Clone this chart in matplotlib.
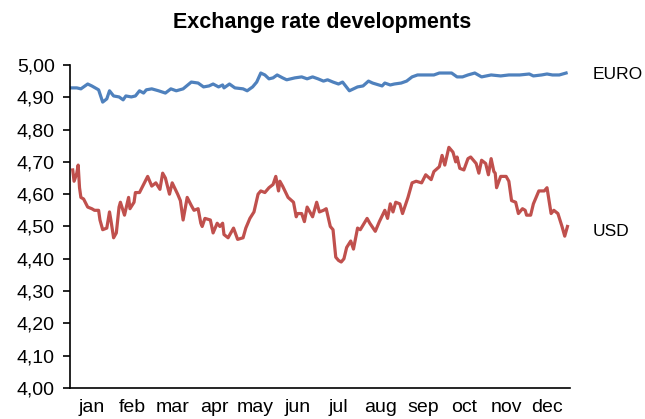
import matplotlib.pyplot as plt
from matplotlib.ticker import FuncFormatter

plt.rcParams['font.family'] = ['Liberation Sans', 'DejaVu Sans']

months = ["jan", "feb", "mar", "apr", "may", "jun",
          "jul", "aug", "sep", "oct", "nov", "dec"]
month_mid = [15, 45, 74, 105, 135, 166, 196, 227, 258, 288, 319, 349]

# EUR rate, day of year and value
euro_day = [0, 4, 7, 12, 15, 20, 23, 26, 28, 31, 35, 38, 40, 44, 47, 50, 53, 55,
            59, 64, 69, 73, 77, 82, 88, 93, 97, 101, 104, 108, 111, 112, 116, 120,
            126, 129, 133, 136, 139, 142, 145, 148, 151, 155, 158, 164, 169, 173,
            177, 181, 185, 188, 192, 196, 199, 204, 210, 214, 218, 221, 228, 230,
            234, 237, 242, 246, 250, 254, 261, 266, 270, 279, 283, 287, 291, 296,
            301, 308, 315, 321, 329, 336, 339, 345, 349, 353, 358, 363]
euro_val = [4.929, 4.929, 4.926, 4.941, 4.935, 4.923, 4.885, 4.895, 4.920, 4.904,
            4.901, 4.892, 4.904, 4.901, 4.904, 4.920, 4.913, 4.923, 4.926, 4.920,
            4.913, 4.926, 4.920, 4.926, 4.947, 4.944, 4.932, 4.935, 4.941, 4.932,
            4.938, 4.929, 4.941, 4.929, 4.926, 4.920, 4.932, 4.947, 4.975, 4.969,
            4.957, 4.960, 4.969, 4.960, 4.954, 4.960, 4.963, 4.957, 4.963, 4.957,
            4.950, 4.954, 4.947, 4.941, 4.947, 4.920, 4.932, 4.935, 4.950, 4.944,
            4.935, 4.944, 4.938, 4.941, 4.944, 4.950, 4.963, 4.969, 4.969, 4.969,
            4.975, 4.975, 4.963, 4.963, 4.969, 4.975, 4.963, 4.969, 4.966, 4.969,
            4.969, 4.972, 4.966, 4.969, 4.972, 4.969, 4.969, 4.975]

# USD rate, day of year and value
usd_day = [1, 2, 4, 5, 6, 7, 9, 12, 15, 17, 20, 21, 23, 26, 28, 29, 31, 33, 35,
           36, 39, 42, 43, 46, 47, 50, 53, 56, 59, 62, 65, 67, 69, 72, 74, 78, 80,
           82, 85, 88, 90, 93, 95, 96, 98, 102, 104, 107, 109, 111, 112, 115, 119,
           122, 126, 128, 131, 134, 137, 139, 142, 145, 148, 150, 152, 153, 155,
           159, 163, 165, 166, 169, 171, 173, 177, 180, 182, 185, 187, 190, 192,
           194, 196, 198, 200, 202, 205, 207, 210, 212, 217, 219, 223, 226, 230,
           232, 234, 236, 238, 241, 243, 247, 250, 253, 257, 260, 264, 266, 270,
           272, 274, 277, 280, 282, 283, 285, 288, 291, 293, 297, 299, 301, 304,
           306, 308, 310, 311, 312, 315, 319, 321, 323, 326, 328, 331, 333, 334,
           337, 339, 343, 347, 349, 352, 354, 357, 360, 362, 364]
usd_val = [4.675, 4.64, 4.665, 4.69, 4.62, 4.59, 4.585, 4.56, 4.555, 4.55, 4.55,
           4.52, 4.49, 4.495, 4.545, 4.52, 4.465, 4.48, 4.56, 4.575, 4.535, 4.59,
           4.555, 4.575, 4.605, 4.605, 4.63, 4.655, 4.625, 4.635, 4.615, 4.665,
           4.65, 4.60, 4.635, 4.60, 4.58, 4.52, 4.59, 4.565, 4.55, 4.555, 4.51,
           4.50, 4.525, 4.52, 4.48, 4.51, 4.50, 4.51, 4.475, 4.465, 4.495, 4.46,
           4.465, 4.495, 4.525, 4.545, 4.60, 4.61, 4.605, 4.62, 4.63, 4.655, 4.61,
           4.64, 4.625, 4.59, 4.575, 4.53, 4.54, 4.54, 4.515, 4.56, 4.53, 4.575,
           4.545, 4.55, 4.555, 4.50, 4.49, 4.405, 4.395, 4.39, 4.40, 4.435, 4.455,
           4.43, 4.495, 4.49, 4.525, 4.51, 4.485, 4.515, 4.55, 4.525, 4.57, 4.545,
           4.575, 4.57, 4.54, 4.59, 4.635, 4.64, 4.635, 4.66, 4.645, 4.67, 4.685,
           4.72, 4.69, 4.745, 4.73, 4.70, 4.715, 4.68, 4.675, 4.71, 4.715, 4.695,
           4.665, 4.705, 4.695, 4.66, 4.71, 4.67, 4.665, 4.62, 4.655, 4.655, 4.64,
           4.58, 4.575, 4.54, 4.555, 4.55, 4.535, 4.535, 4.57, 4.61, 4.61, 4.62,
           4.54, 4.55, 4.54, 4.50, 4.47, 4.50]

fig = plt.figure(figsize=(6.45, 4.19), dpi=100)
ax = fig.add_axes([0.1085, 0.074, 0.7755, 0.771])

ax.plot(euro_day, euro_val, color="#4F81BD", lw=2.3)
ax.plot(usd_day, usd_val, color="#C0504D", lw=2.3)

ax.set_xlim(-1, 366)
ax.set_ylim(4.0, 5.0)
ax.set_yticks([4.0 + 0.1 * i for i in range(11)])
ax.yaxis.set_major_formatter(FuncFormatter(lambda v, p: f"{v:.2f}".replace(".", ",")))
ax.set_xticks(month_mid)
ax.set_xticklabels(months)
ax.tick_params(axis="x", length=0, pad=8, labelsize=14)
ax.tick_params(axis="y", length=5, width=1.2, direction="out", labelsize=14, pad=6)

for s in ["top", "right"]:
    ax.spines[s].set_visible(False)
ax.spines["left"].set_linewidth(1.2)
ax.spines["bottom"].set_linewidth(1.2)

ax.text(1.045, euro_val[-1] - 0.005, "EURO", transform=ax.get_yaxis_transform(),
        va="center", ha="left", fontsize=12.5)
ax.text(1.045, 4.485, "USD", transform=ax.get_yaxis_transform(),
        va="center", ha="left", fontsize=12.5)

fig.text(0.5, 0.947, "Exchange rate developments", ha="center", va="center",
         fontsize=15.5, fontweight="bold")

fig.savefig("out.png", dpi=100)
